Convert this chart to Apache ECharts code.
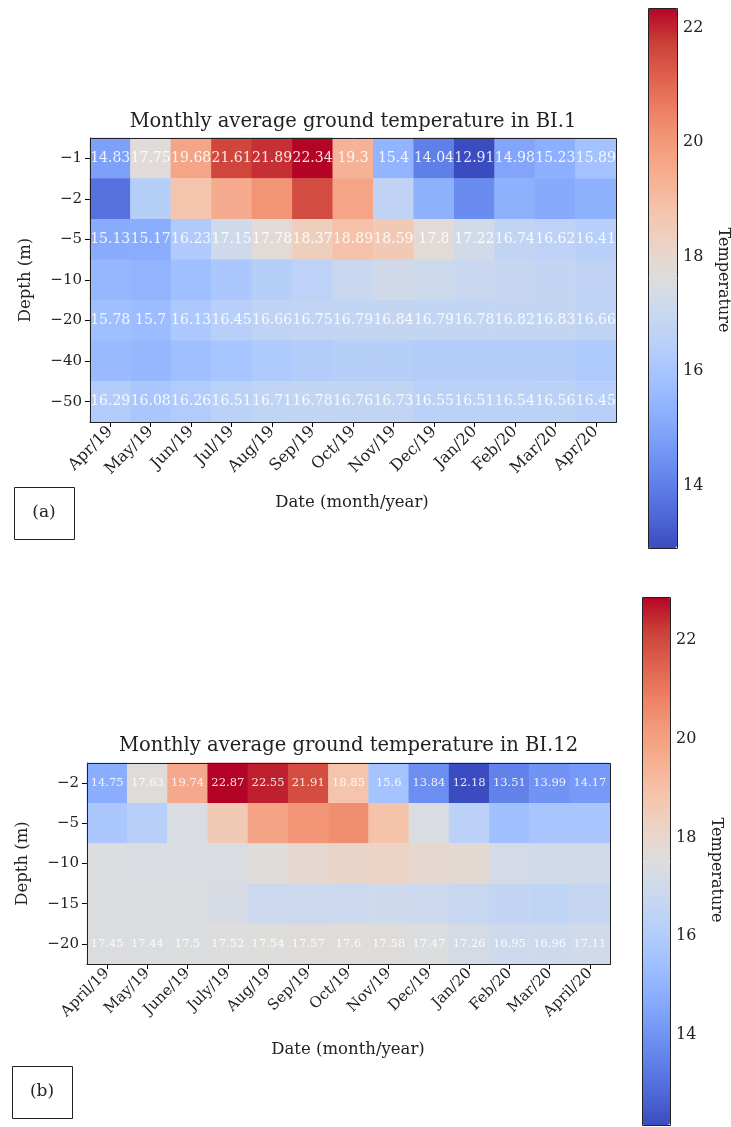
<!DOCTYPE html>
<html><head><meta charset="utf-8">
<script src="https://cdn.jsdelivr.net/npm/echarts@6/dist/echarts.min.js"></script>
<style>html,body{margin:0;padding:0;background:#fff;}#c{width:731px;height:1127px;}</style>
</head><body><div id="c"></div>
<script>
// ---------- DATA ----------
const monthsA = ['Apr/19','May/19','Jun/19','Jul/19','Aug/19','Sep/19','Oct/19','Nov/19','Dec/19','Jan/20','Feb/20','Mar/20','Apr/20'];
const depthsA = ['−1','−2','−5','−10','−20','−40','−50'];
const labeledDepthsA = ['−1','−5','−20','−50'];
const a_d1  = [14.83,17.75,19.68,21.61,21.89,22.34,19.3,15.4,14.04,12.91,14.98,15.23,15.89];
const a_d2  = [13.7,16.4,18.8,19.5,20.1,21.5,19.7,16.7,15.3,14.3,15.3,15.1,15.3];
const a_d5  = [15.13,15.17,16.23,17.15,17.78,18.37,18.89,18.59,17.8,17.22,16.74,16.62,16.41];
const a_d10 = [15.5,15.4,15.8,16.1,16.4,16.6,17.0,17.2,17.1,17.0,16.9,16.8,16.7];
const a_d20 = [15.78,15.7,16.13,16.45,16.66,16.75,16.79,16.84,16.79,16.78,16.82,16.83,16.66];
const a_d40 = [15.6,15.5,15.8,16.0,16.2,16.3,16.4,16.4,16.3,16.3,16.3,16.3,16.2];
const a_d50 = [16.29,16.08,16.26,16.51,16.71,16.78,16.76,16.73,16.55,16.51,16.54,16.56,16.45];
const rowsA = [a_d1,a_d2,a_d5,a_d10,a_d20,a_d40,a_d50];

const monthsB = ['April/19','May/19','June/19','July/19','Aug/19','Sep/19','Oct/19','Nov/19','Dec/19','Jan/20','Feb/20','Mar/20','April/20'];
const depthsB = ['−2','−5','−10','−15','−20'];
const labeledDepthsB = ['−2','−20'];
const b_d2  = [14.75,17.63,19.74,22.87,22.55,21.91,18.85,15.6,13.84,12.18,13.51,13.99,14.17];
const b_d5  = [15.8,16.2,17.4,18.6,19.9,20.3,20.5,18.9,17.4,16.3,15.5,15.7,15.7];
const b_d10 = [17.5,17.4,17.4,17.4,17.6,17.9,18.1,18.2,17.9,17.8,17.2,17.1,17.1];
const b_d15 = [17.5,17.45,17.5,17.3,16.9,16.9,16.9,17.0,16.9,16.8,16.6,16.5,16.7];
const b_d20 = [17.45,17.44,17.5,17.52,17.54,17.57,17.6,17.58,17.47,17.26,16.95,16.96,17.11];
const rowsB = [b_d2,b_d5,b_d10,b_d15,b_d20];

const cbTicks = [14,16,18,20,22];
const titleA = 'Monthly average ground temperature in BI.1';
const titleB = 'Monthly average ground temperature in BI.12';

// ---------- HELPERS ----------
const FONT = 'DejaVu Serif';
const coolwarm = ['#3b4cc0','#4f69d9','#6282ea','#779af7','#8db0fe','#a2c1ff','#b8d0f9','#cad8ef','#dddddd','#ecd3c5','#f5c4ac','#f6af92','#f49a7b','#ec7f63','#de604d','#cb3e38','#b40426'];
function build(rows){ const d=[]; rows.forEach((r,i)=>r.forEach((v,j)=>d.push([j,i,v]))); return d; }
const dataA = build(rowsA), dataB = build(rowsB);
const allA = rowsA.flat(), allB = rowsB.flat();
const minA = Math.min(...allA), maxA = Math.max(...allA);
const minB = Math.min(...allB), maxB = Math.max(...allB);

const L = {
  A:{left:90,top:138,width:526,height:284},
  B:{left:87,top:763,width:523,height:201},
  cA:{left:648,top:8,width:29,height:540},
  cB:{left:642,top:597,width:28,height:528}
};

function catX(grid, data, fs){
  return {type:'category', gridIndex:grid, data:data,
    axisLine:{show:true,lineStyle:{color:'#000',width:1}},
    axisTick:{show:true,alignWithLabel:true,length:5,lineStyle:{color:'#000'}},
    axisLabel:{rotate:45,color:'#222',fontFamily:FONT,fontSize:fs,margin:7,interval:0},
    splitLine:{show:false}};
}
function catY(grid, data){
  return {type:'category', gridIndex:grid, data:data, inverse:true,
    axisLine:{show:true,lineStyle:{color:'#000',width:1}},
    axisTick:{show:true,alignWithLabel:true,length:5,lineStyle:{color:'#000'}},
    axisLabel:{color:'#222',fontFamily:FONT,fontSize:15,margin:8,interval:0},
    splitLine:{show:false}};
}
function cbY(grid,min,max){
  return {type:'value', gridIndex:grid, min:min, max:max, position:'right',
    axisLine:{show:false},
    axisTick:{show:true,length:4,customValues:cbTicks,lineStyle:{color:'#000'}},
    axisLabel:{show:true,customValues:cbTicks,color:'#222',fontFamily:FONT,fontSize:16,margin:6},
    splitLine:{show:false}};
}
function frame(r){ return {type:'rect',shape:{x:r.left+0.5,y:r.top+0.5,width:r.width,height:r.height},style:{fill:'none',stroke:'#222',lineWidth:1},z:100}; }
function txt(x,y,t,fs,rot){ return {type:'text',x:x,y:y,rotation:rot||0,style:{text:t,font:fs+'px "'+FONT+'"',fill:'#222',align:'center',verticalAlign:'middle'},z:100}; }
function box(x,y,w,h,t){ return [{type:'rect',shape:{x:x+0.5,y:y+0.5,width:w,height:h},style:{fill:'#fff',stroke:'#222',lineWidth:1},z:100}, txt(x+w/2,y+h/2,t,17)]; }

function labelFmt(depths, labeled){
  return p => labeled.indexOf(depths[p.value[1]])>=0 ? String(p.value[2]) : '';
}

const option = {
  animation:false,
  backgroundColor:'#fff',
  grid:[
    Object.assign({},L.A),
    Object.assign({},L.B),
    Object.assign({},L.cA),
    Object.assign({},L.cB)
  ],
  xAxis:[
    catX(0,monthsA,16),
    catX(1,monthsB,15),
    {type:'value',gridIndex:2,show:false},
    {type:'value',gridIndex:3,show:false}
  ],
  yAxis:[
    catY(0,depthsA),
    catY(1,depthsB),
    cbY(2,minA,maxA),
    cbY(3,minB,maxB)
  ],
  visualMap:[
    {type:'continuous',seriesIndex:0,min:minA,max:maxA,calculable:false,show:true,orient:'vertical',
     left:L.cA.left,top:L.cA.top,itemWidth:L.cA.width,itemHeight:L.cA.height,padding:0,text:null,showLabel:false,
     inRange:{color:coolwarm},hoverLink:false},
    {type:'continuous',seriesIndex:1,min:minB,max:maxB,calculable:false,show:true,orient:'vertical',
     left:L.cB.left,top:L.cB.top,itemWidth:L.cB.width,itemHeight:L.cB.height,padding:0,text:null,showLabel:false,
     inRange:{color:coolwarm},hoverLink:false}
  ],
  series:[
    {type:'heatmap',xAxisIndex:0,yAxisIndex:0,data:dataA,
     label:{show:true,formatter:labelFmt(depthsA,labeledDepthsA),color:'rgba(255,255,255,0.88)',fontFamily:FONT,fontSize:14}},
    {type:'heatmap',xAxisIndex:1,yAxisIndex:1,data:dataB,
     label:{show:true,formatter:labelFmt(depthsB,labeledDepthsB),color:'rgba(255,255,255,0.88)',fontFamily:FONT,fontSize:11.5}}
  ],
  graphic:[
    frame(L.A), frame(L.B), frame(L.cA), frame(L.cB),
    txt(L.A.left+L.A.width/2, 122, titleA, 19.5),
    txt(L.B.left+L.B.width/2, 746, titleB, 19.5),
    txt(26, L.A.top+L.A.height/2, 'Depth (m)', 16.5, Math.PI/2),
    txt(23, L.B.top+L.B.height/2, 'Depth (m)', 16.5, Math.PI/2),
    txt(352, 503, 'Date (month/year)', 16.5),
    txt(348, 1050, 'Date (month/year)', 16.5),
    txt(723, 280, 'Temperature', 16, -Math.PI/2),
    txt(716, 870, 'Temperature', 16, -Math.PI/2),
    ...box(14,487,60,52,'(a)'),
    ...box(12,1066,60,52,'(b)')
  ]
};
const chart = echarts.init(document.getElementById('c'),null,{renderer:'canvas'});
chart.setOption(option);
</script></body></html>
